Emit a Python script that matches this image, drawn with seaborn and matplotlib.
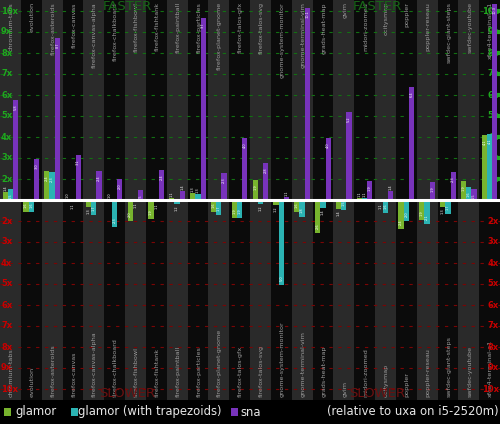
import pandas as pd
import numpy as np
import matplotlib
matplotlib.use("Agg")
import matplotlib.pyplot as plt
from matplotlib.patches import Rectangle
import seaborn as sns

# speedup relative to uxa: positive = faster by that factor, negative = slower by that factor
benchmarks = [
    "chromium-tabs", "evolution", "firefox-asteroids", "firefox-canvas",
    "firefox-canvas-alpha", "firefox-chalkboard", "firefox-fishbowl",
    "firefox-fishtank", "firefox-paintball", "firefox-particles",
    "firefox-planet-gnome", "firefox-talos-gfx", "firefox-talos-svg",
    "gnome-system-monitor", "gnome-terminal-vim", "grads-heat-map", "gvim",
    "midori-zoomed", "ocitysmap", "poppler", "poppler-reseau",
    "swfdec-giant-steps", "swfdec-youtube", "xfce4-terminal-a1",
]
glamor = [1.38, -1.57, 2.38, 1.04, -1.33, 1.04, -2.0, -1.9, 1.1, 1.33, -1.57, -1.86,
          1.95, -1.24, -1.57, -2.57, -1.43, 1.1, -1.1, -2.38, -1.95, -1.33, 1.9, 4.1]
glamor_trap = [1.52, -1.57, 2.33, -1.1, -1.71, -2.29, -1.05, -1.1, -1.19, 1.29, -1.71, -1.86,
               -1.19, -5.05, -1.81, -1.38, -1.48, 1.1, -1.62, -2.0, -2.14, -1.67, 1.62, 4.14]
sna = [5.76, 2.95, 8.71, 3.14, 2.38, 2.0, 1.48, 2.43, 1.43, 9.67, 2.29, 3.95,
       2.76, 1.14, 10.14, 3.95, 5.19, 1.9, 1.43, 6.38, 1.86, 2.33, 1.52, 10.33]

series_names = ["glamor", "glamor (with trapezoids)", "sna"]
colors = ["#78b42e", "#2bb3b3", "#7833bb"]

rows = []
for name, vals in zip(series_names, [glamor, glamor_trap, sna]):
    for b, v in zip(benchmarks, vals):
        h = abs(v) - 1
        rows.append({"bench": b, "series": name, "speedup": abs(v),
                     "height": h if v > 0 else -h})
df = pd.DataFrame(rows)

fig = plt.figure(figsize=(5, 4.24), dpi=100, facecolor="black")
ax = fig.add_axes([0, 24 / 424, 1, 400 / 424])
ax.set_facecolor("#0b0b0b")

n = len(benchmarks)
for i in range(0, n, 2):
    ax.axvspan(i - 0.5, i + 0.5, color="#2a2a2a", lw=0, zorder=0)

# dashed grid lines, green above, red below
for k in range(1, 10):
    ax.axhline(k, color="#127012", lw=0.8, ls=(0, (3, 5)), zorder=1)
    ax.axhline(-k, color="#7a0505", lw=0.8, ls=(0, (3, 5)), zorder=1)

sns.barplot(data=df, x="bench", y="height", hue="series", hue_order=series_names,
            order=benchmarks, palette=colors, width=0.75, saturation=1,
            errorbar=None, legend=False, linewidth=0, zorder=3, ax=ax)

# tiny value labels on bars
for cont in ax.containers:
    hs = [p.get_height() for p in cont.patches]
    inside = [f"{abs(h) + 1:.1f}" if abs(h) >= 0.45 else "" for h in hs]
    outside = [f"{abs(h) + 1:.1f}" if abs(h) < 0.45 else "" for h in hs]
    ax.bar_label(cont, labels=inside, padding=-7, rotation=90, fontsize=2.5,
                 color="white", zorder=5)
    ax.bar_label(cont, labels=outside, padding=1, rotation=90, fontsize=2.5,
                 color="white", zorder=5)

ax.axhline(0, color="white", lw=2.2, zorder=4)

lim = 200 / 21
ax.set_ylim(-lim, lim)
ax.set_xlim(-0.5, n - 0.5)
ax.set_xticks([])
ax.set_yticks([])
ax.set_xlabel("")
ax.set_ylabel("")
for s in ax.spines.values():
    s.set_visible(False)

# benchmark names, top and bottom
for i, b in enumerate(benchmarks):
    ax.text(i + 0.05, 1 - 2 / 400, b, transform=ax.get_xaxis_transform(),
            rotation=90, ha="center", va="top", fontsize=4.6, color="#9c9c9c", zorder=2)
    ax.text(i + 0.05, 3 / 400, b, transform=ax.get_xaxis_transform(),
            rotation=90, ha="center", va="bottom", fontsize=4.6, color="#9c9c9c", zorder=2)

# y labels on both sides
for k in range(1, 10):
    lab = f"{k + 1}x"
    ax.text(0.002, k, lab, transform=ax.get_yaxis_transform(), ha="left", va="center",
            fontsize=6, color="#1fa81f", fontweight="bold", zorder=2.5)
    ax.text(0.002, -k, lab, transform=ax.get_yaxis_transform(), ha="left", va="center",
            fontsize=6, color="#c80000", fontweight="bold", zorder=2.5)
    ax.text(0.998, k, lab, transform=ax.get_yaxis_transform(), ha="right", va="center",
            fontsize=6, color="#1fa81f", fontweight="bold", zorder=2.5)
    ax.text(0.998, -k, lab, transform=ax.get_yaxis_transform(), ha="right", va="center",
            fontsize=6, color="#c80000", fontweight="bold", zorder=2.5)
    ax.hlines(k, 0.994, 1.0, transform=ax.get_yaxis_transform(), color="#1fa81f",
              lw=3, zorder=6)

for xf in (0.254, 0.754):
    ax.text(xf, 1.0, "FASTER", transform=ax.transAxes, ha="center", va="top",
            fontsize=9.5, color="#176517", zorder=2)
    ax.text(xf, 0.0, "SLOWER", transform=ax.transAxes, ha="center", va="bottom",
            fontsize=9.5, color="#6a1010", zorder=2)

# legend strip
leg = [(4, 15, "glamor"), (71, 78, "glamor (with trapezoids)"), (231, 240, "sna")]
for (sx, tx, name), c in zip(leg, colors):
    fig.add_artist(Rectangle((sx / 500, 8 / 424), 7 / 500, 8 / 424,
                             transform=fig.transFigure, color=c, lw=0))
    fig.text(tx / 500, 12 / 424, name, ha="left", va="center", fontsize=8.4, color="#e6e6e6")
fig.text(499 / 500, 12 / 424, "(relative to uxa on i5-2520m)", ha="right", va="center",
         fontsize=8.4, color="#e6e6e6")

fig.savefig("out.png", dpi=100, facecolor="black")
